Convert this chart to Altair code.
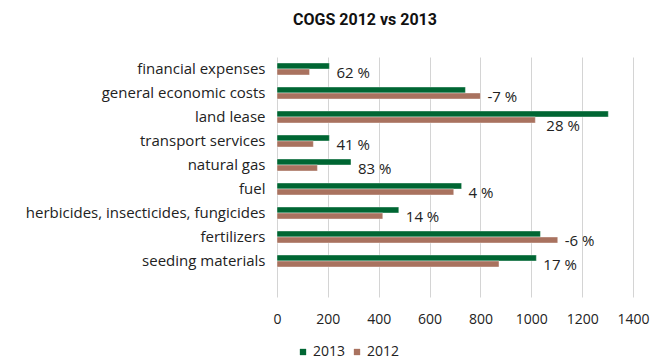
import altair as alt
import pandas as pd

categories = [
    "financial expenses",
    "general economic costs",
    "land lease",
    "transport services",
    "natural gas",
    "fuel",
    "herbicides, insecticides, fungicides",
    "fertilizers",
    "seeding materials",
]
values_2013 = [206, 741, 1303, 206, 291, 726, 479, 1036, 1020]
values_2012 = [128, 800, 1016, 143, 159, 695, 416, 1104, 873]
change_labels = ["62 %", "-7 %", "28 %", "41 %", "83 %", "4 %", "14 %", "-6 %", "17 %"]
series = ["2013", "2012"]
colors = ["#006633", "#A9725F"]
x_ticks = [0, 200, 400, 600, 800, 1000, 1200, 1400]

rows = []
for c, a, b in zip(categories, values_2013, values_2012):
    rows.append({"category": c, "series": "2013", "value": a})
    rows.append({"category": c, "series": "2012", "value": b})
bars_df = pd.DataFrame(rows)

lab = pd.DataFrame({"category": categories, "label": change_labels,
                    "v13": values_2013, "v12": values_2012})
lab["peak"] = lab[["v13", "v12"]].max(axis=1)
crowded = lab["peak"] > 1250
lab["anchor"] = lab["peak"].where(~crowded, lab["v12"])
lab_normal = lab[~crowded]
lab_crowded = lab[crowded]

FONT = "Open Sans"
TXT = "#222222"
y_domain = categories + [" "]

y_enc = alt.Y("category:N", sort=y_domain,
              scale=alt.Scale(domain=y_domain, paddingInner=0.5, paddingOuter=0.25),
              axis=alt.Axis(title=None, ticks=False, domain=False, labelPadding=12,
                            labelFontSize=15, labelColor=TXT, labelFont=FONT,
                            labelLimit=0, grid=False))
x_enc = alt.X("value:Q", scale=alt.Scale(domain=[0, 1400], nice=False),
              axis=alt.Axis(title=None, values=x_ticks, format="d", grid=True,
                            gridColor="#d4d4d4", domain=False, ticks=False,
                            labelPadding=15, labelFontSize=14, labelOverlap=False,
                            labelFlush=False, labelColor=TXT, labelFont=FONT))

bars = alt.Chart(bars_df).mark_bar(stroke="#ffffff", strokeWidth=0.4).encode(
    x=x_enc,
    y=y_enc,
    yOffset=alt.YOffset("series:N", sort=series,
                        scale=alt.Scale(domain=series, paddingInner=0, paddingOuter=0)),
    color=alt.Color("series:N", sort=series,
                    scale=alt.Scale(domain=series, range=colors),
                    legend=alt.Legend(title=None, orient="none", direction="horizontal",
                                      legendX=19, legendY=288, symbolType="square",
                                      symbolSize=40, symbolStrokeWidth=0,
                                      labelFontSize=14, labelFont=FONT,
                                      labelColor=TXT, columnPadding=4,
                                      symbolOffset=0, labelOffset=3)),
)

text_normal = alt.Chart(lab_normal).mark_text(
    align="left", baseline="middle", dx=7, dy=4, fontSize=15, font=FONT, color=TXT
).encode(x=alt.X("anchor:Q"), y=alt.Y("category:N", sort=y_domain), text="label:N")

text_crowded = alt.Chart(lab_crowded).mark_text(
    align="left", baseline="middle", dx=11, dy=9, fontSize=15, font=FONT, color=TXT
).encode(x=alt.X("anchor:Q"), y=alt.Y("category:N", sort=y_domain), text="label:N")

chart = alt.layer(bars, text_normal, text_crowded).properties(
    width=356,
    height=240,
    title=alt.TitleParams("COGS 2012 vs 2013", fontSize=16, font="Roboto", fontWeight="bold",
                          color="#111111", anchor="middle", dx=-90, offset=29),
    autosize=alt.AutoSizeParams(type="none"),
    padding={"left": 277, "top": 57, "right": 20, "bottom": 67},
).configure_view(stroke=None)

chart.save("out.html", embed_options={"renderer": "svg", "actions": False})
